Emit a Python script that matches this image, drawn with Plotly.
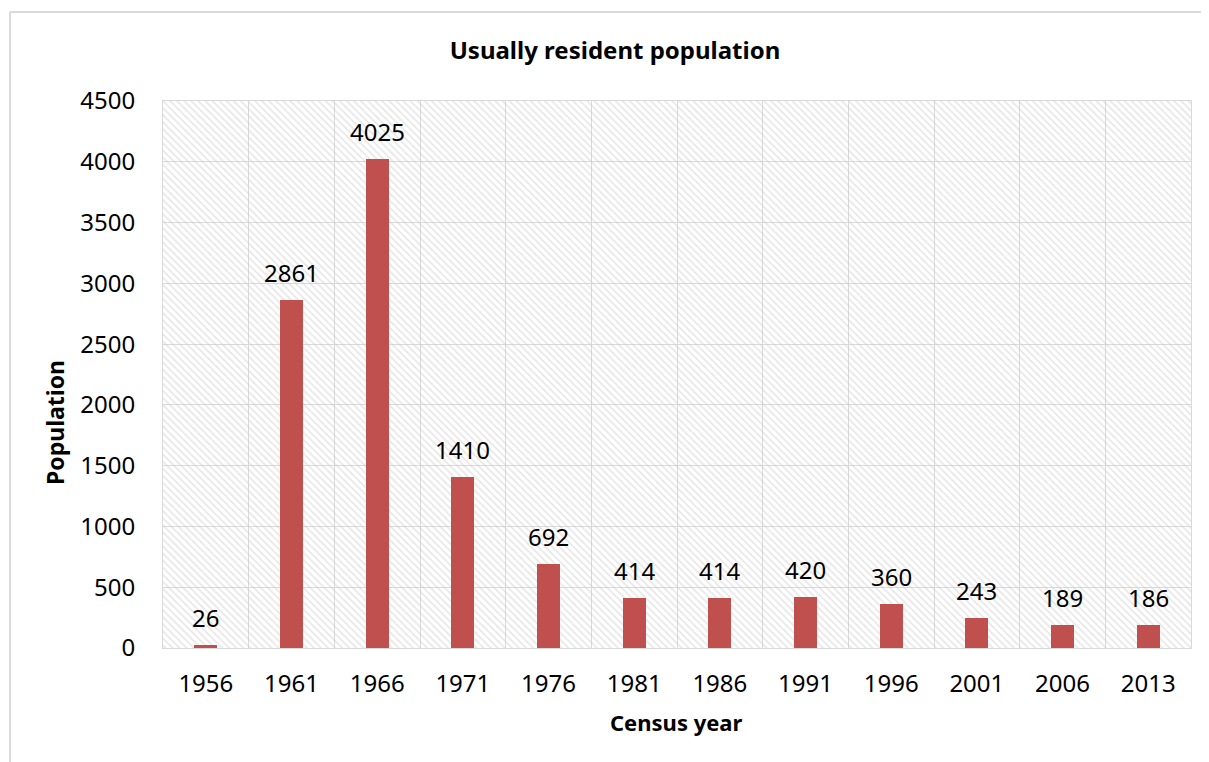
import plotly.graph_objects as go

years = ["1956", "1961", "1966", "1971", "1976", "1981", "1986", "1991", "1996", "2001", "2006", "2013"]
population = [26, 2861, 4025, 1410, 692, 414, 414, 420, 360, 243, 189, 186]
y_ticks = [0, 500, 1000, 1500, 2000, 2500, 3000, 3500, 4000, 4500]
y_max = 4500

FONT = "Noto Sans"
W, H = 1209, 762
OFF = 8  # page body margin offset
# target plot area on screen: x 163..1191, y 101..648
L = 163 - OFF
T = 101 - OFF
R = W - (1191 - OFF)
B = H - (648 - OFF)
pw, ph = W - L - R, H - T - B

def px(sx):
    return (sx - OFF - L) / pw

def py(sy):
    return (H - B - (sy - OFF)) / ph

fig = go.Figure()

# hatched plot-area background (decoration)
fig.add_trace(go.Bar(
    x=years, y=[y_max] * len(years), width=1,
    marker=dict(color="rgba(0,0,0,0)", line=dict(width=0),
                pattern=dict(shape="\\", fgcolor="#cccccc", bgcolor="rgba(0,0,0,0)",
                             size=5, solidity=0.3, fillmode="overlay")),
    hoverinfo="skip", showlegend=False,
))

fig.add_trace(go.Bar(
    x=years, y=population, width=0.27,
    marker=dict(color="#c0504d", line=dict(width=0)),
    showlegend=False,
))

annotations = []
for i, v in enumerate(population):
    annotations.append(dict(x=i, y=v, xref="x", yref="y", text=str(v), showarrow=False,
                            yanchor="bottom", yshift=9,
                            font=dict(family=FONT, size=24, color="#000000")))

annotations.append(dict(x=px(676), y=py(722), xref="paper", yref="paper", text="<b>Census year</b>",
                        showarrow=False, xanchor="center", yanchor="middle",
                        font=dict(family=FONT, size=22, color="#000000")))
annotations.append(dict(x=px(55), y=py(423), xref="paper", yref="paper", text="<b>Population</b>",
                        showarrow=False, xanchor="center", yanchor="middle", textangle=-90,
                        font=dict(family=FONT, size=23, color="#000000")))

shapes = [
    dict(type="line", xref="paper", yref="paper", x0=px(10), x1=px(W + 20), y0=py(12), y1=py(12),
         line=dict(color="#d9d9d9", width=2)),
    dict(type="line", xref="paper", yref="paper", x0=px(10), x1=px(10), y0=py(12), y1=py(H + 20),
         line=dict(color="#d9d9d9", width=2)),
]

fig.update_layout(
    width=W, height=H,
    margin=dict(l=L, r=R, t=T, b=B, pad=0, autoexpand=False),
    paper_bgcolor="white", plot_bgcolor="white",
    barmode="overlay", bargap=0,
    title=dict(text="<b>Usually resident population</b>", x=(615 - OFF) / W, xref="container",
               xanchor="center", y=1 - (51 - OFF) / H, yanchor="middle",
               font=dict(family=FONT, size=24, color="#000000")),
    annotations=annotations,
    shapes=shapes,
    xaxis=dict(type="category", range=[-0.5, len(years) - 0.5], tickson="boundaries",
               showgrid=True, gridcolor="#d9d9d9", gridwidth=1, automargin=False,
               showline=True, linecolor="#d9d9d9", linewidth=1, mirror=True, ticks="", tickangle=0,
               tickfont=dict(family=FONT, size=24, color="#000000"), ticklabelstandoff=14),
    yaxis=dict(range=[0, y_max], tickvals=y_ticks, showgrid=True, gridcolor="#d9d9d9", gridwidth=1,
               showline=True, linecolor="#d9d9d9", linewidth=1, mirror=True, ticks="", zeroline=False,
               automargin=False,
               tickfont=dict(family=FONT, size=24, color="#000000"), ticklabelstandoff=22),
    hovermode=False,
)

fig.write_html("out.html")
